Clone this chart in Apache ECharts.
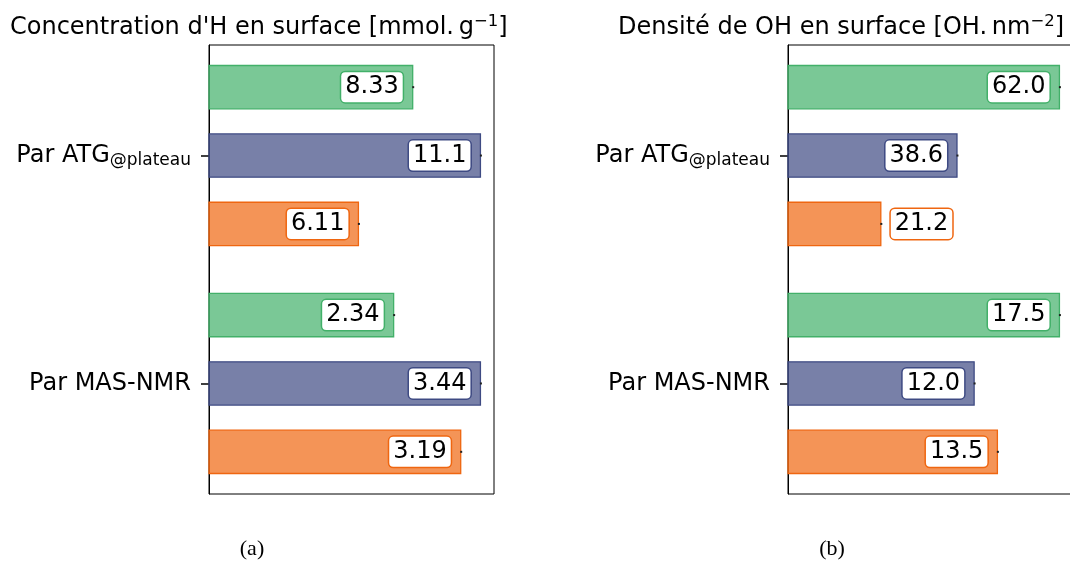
<!DOCTYPE html>
<html>
<head>
<meta charset="utf-8">
<script src="https://cdn.jsdelivr.net/npm/echarts@6/dist/echarts.min.js"></script>
<style>
  html, body { margin: 0; padding: 0; background: #fff; overflow: hidden; }
  #chart { width: 1080px; height: 561px; }
</style>
</head>
<body>
<div id="chart"></div>
<script>
// Group labels (main text + subscript)
const groupMain = ['Par ATG', 'Par MAS-NMR'];
const groupSub = ['@plateau', ''];

// Surface H concentration [mmol/g], one array per group
const concATG = [8.33, 11.1, 6.11];
const concNMR = [2.34, 3.44, 3.19];

// Surface OH density [OH/nm2], one array per group
const densATG = [62.0, 38.6, 21.2];
const densNMR = [17.5, 12.0, 13.5];

// Colours of the three bars inside each group (top to bottom)
const barColors = ['#42b069', '#3e4a83', '#ef6610'];

const FONT = '"DejaVu Sans", sans-serif';
const BAR_OFFSETS = [-0.3, 0, 0.3];
const BAR_H = 0.19;

function rgba(hex, a) {
  const n = parseInt(hex.slice(1), 16);
  return 'rgba(' + (n >> 16) + ',' + ((n >> 8) & 255) + ',' + (n & 255) + ',' + a + ')';
}

// Each group is scaled to its own maximum
function buildItems(groups) {
  const items = [];
  groups.forEach((vals, g) => {
    const mx = Math.max.apply(null, vals);
    vals.forEach((v, k) => {
      items.push([v / mx, g + BAR_OFFSETS[k], v, k]);
    });
  });
  return items;
}

function renderBar(params, api) {
  const norm = api.value(0), y = api.value(1), val = api.value(2), k = api.value(3);
  const p0 = api.coord([0, y]);
  const p1 = api.coord([norm, y]);
  const h = api.size([0, BAR_H])[1];
  const color = barColors[k];
  const inside = norm >= 0.4;
  return {
    type: 'group',
    children: [
      {
        type: 'rect',
        shape: { x: p0[0], y: p0[1] - h / 2, width: p1[0] - p0[0], height: h },
        style: { fill: rgba(color, 0.7), stroke: color, lineWidth: 1.3 }
      },
      {
        type: 'rect',
        shape: { x: p1[0] - 0.5, y: p1[1] - 1, width: 2, height: 2 },
        style: { fill: '#222' }
      },
      {
        type: 'text',
        x: inside ? p1[0] - 10 : p1[0] + 10,
        y: p1[1],
        style: {
          text: val.toPrecision(3),
          fill: '#000',
          font: '24px ' + FONT,
          align: inside ? 'right' : 'left',
          verticalAlign: 'middle',
          backgroundColor: '#fff',
          borderColor: color,
          borderWidth: 1.5,
          borderRadius: 4,
          padding: [3, 4, 3, 4]
        }
      }
    ]
  };
}

function groupLabel(v) {
  const i = Math.round(v);
  if (groupSub[i]) return '{m|' + groupMain[i] + '}{s|' + groupSub[i] + '}';
  return '{m|' + groupMain[i] + '}';
}

const gridW = 285, gridH = 449, gridTop = 45;
const lefts = [209, 788];

const titleStyle = {
  fontFamily: FONT, fontSize: 24, fontWeight: 'normal', color: '#000', lineHeight: 30,
  rich: { sup: { fontFamily: FONT, fontSize: 16.5, lineHeight: 16, verticalAlign: 'top', color: '#000' } }
};

const option = {
  animation: false,
  title: [
    {
      left: 10, top: 13, padding: 0,
      text: 'Concentration d\'H en surface [mmol.\u2009g{sup|\u22121}]',
      textStyle: titleStyle
    },
    {
      left: 618, top: 13, padding: 0,
      text: 'Densité de OH en surface [OH.\u2009nm{sup|\u22122}]',
      textStyle: titleStyle
    }
  ],
  grid: lefts.map(l => ({
    left: l, top: gridTop, width: gridW, height: gridH,
    show: true, borderColor: '#000', borderWidth: 1, backgroundColor: 'transparent',
    containLabel: false
  })),
  xAxis: [0, 1].map(i => ({
    type: 'value', gridIndex: i, min: 0, max: 1.05, show: false
  })),
  yAxis: [0, 1].map(i => ({
    type: 'value', gridIndex: i, inverse: true, min: -0.485, max: 1.485,
    splitLine: { show: false },
    axisLine: { show: true, lineStyle: { color: '#000', width: 1 } },
    axisTick: { show: true, length: 8, customValues: [0, 1], lineStyle: { color: '#000', width: 1.5 } },
    axisLabel: {
      show: true, customValues: [0, 1], margin: 18, formatter: groupLabel,
      rich: {
        m: { fontFamily: FONT, fontSize: 24, lineHeight: 28, color: '#000' },
        s: { fontFamily: FONT, fontSize: 17, lineHeight: 14, verticalAlign: 'bottom', color: '#000' }
      }
    }
  })),
  series: [
    {
      type: 'custom', xAxisIndex: 0, yAxisIndex: 0,
      dimensions: ['norm', 'pos', 'value', 'k'],
      encode: { x: 0, y: 1 },
      renderItem: renderBar,
      data: buildItems([concATG, concNMR])
    },
    {
      type: 'custom', xAxisIndex: 1, yAxisIndex: 1,
      dimensions: ['norm', 'pos', 'value', 'k'],
      encode: { x: 0, y: 1 },
      renderItem: renderBar,
      data: buildItems([densATG, densNMR])
    }
  ],
  graphic: [
    { type: 'text', x: 252, y: 549, style: { text: '(a)', font: '22px "Liberation Serif", serif', fill: '#000', align: 'center', verticalAlign: 'middle' } },
    { type: 'text', x: 832, y: 549, style: { text: '(b)', font: '22px "Liberation Serif", serif', fill: '#000', align: 'center', verticalAlign: 'middle' } }
  ]
};

const chart = echarts.init(document.getElementById('chart'), null, { renderer: 'canvas' });
chart.setOption(option);
</script>
</body>
</html>
